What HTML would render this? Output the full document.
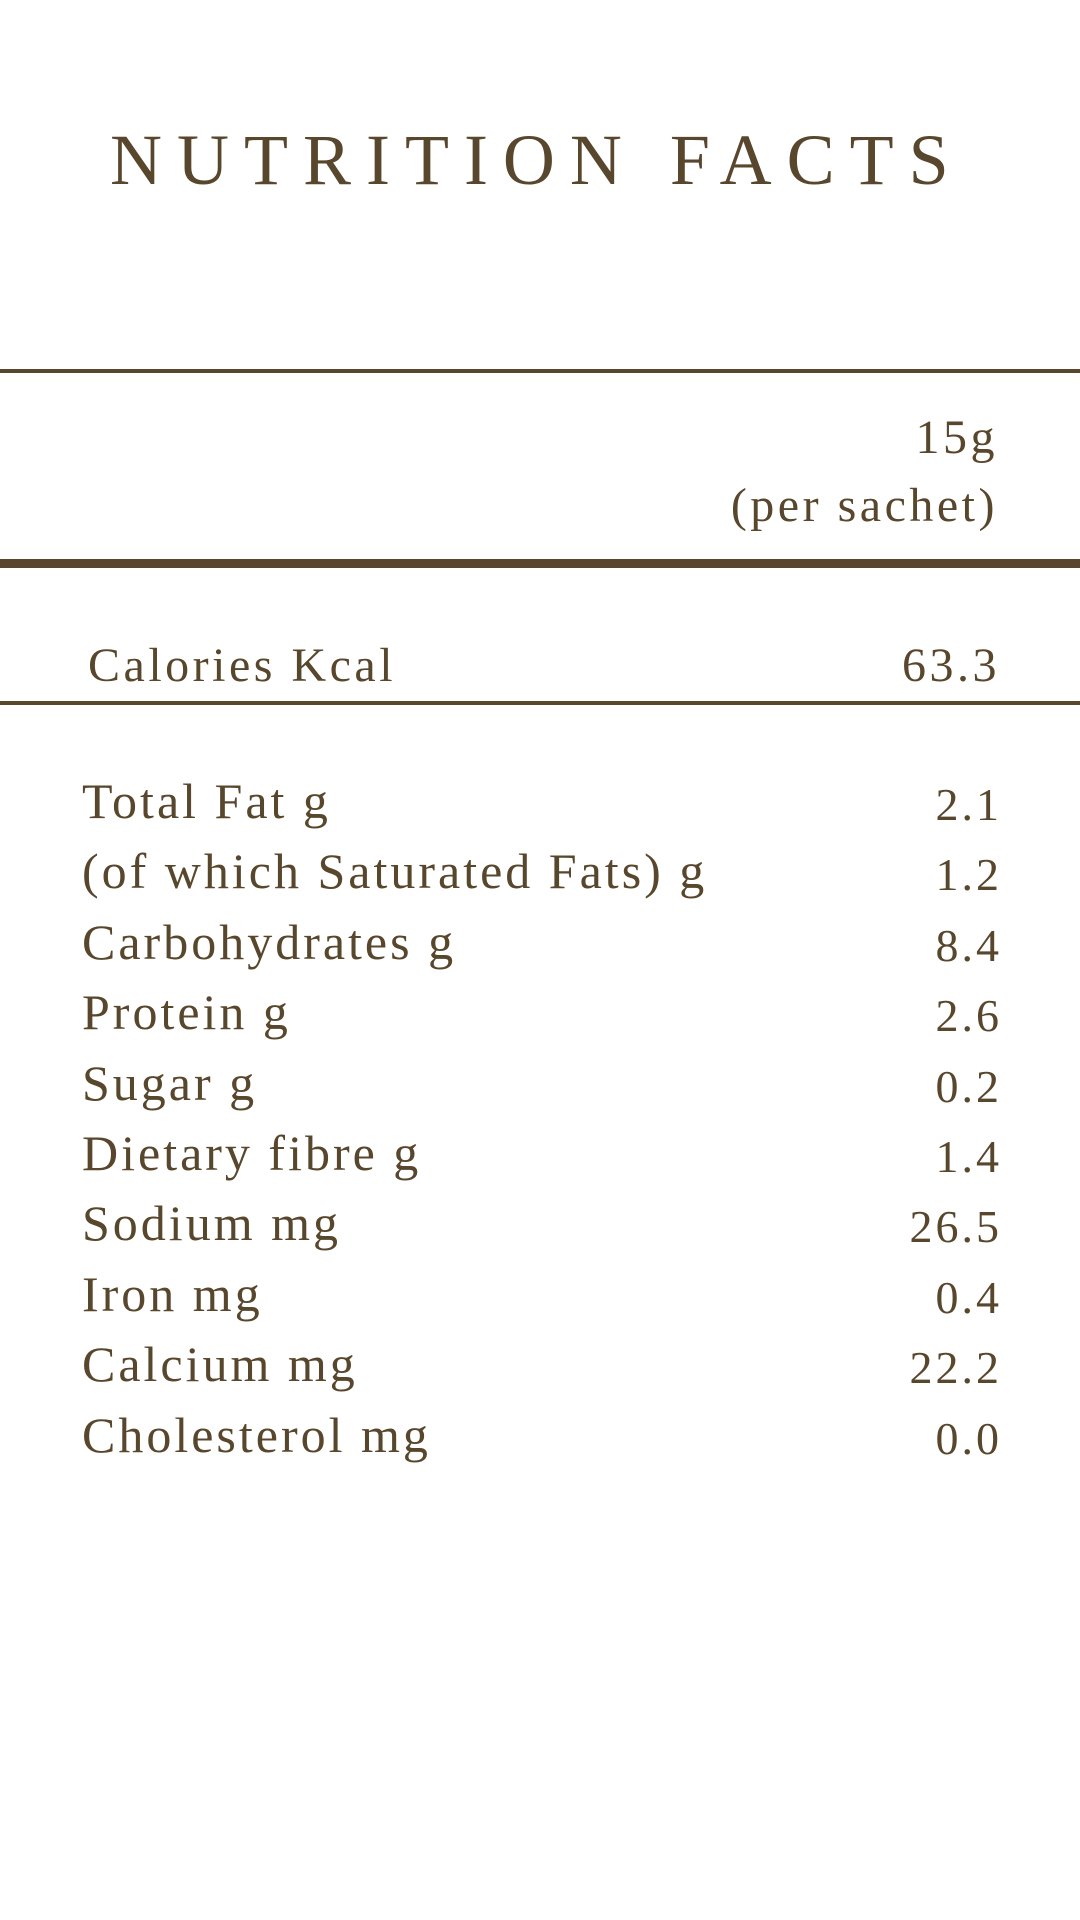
<!DOCTYPE html>
<html><head><meta charset="utf-8"><style>
body{margin:0;width:1080px;height:1920px;background:#fff;font-family:"Liberation Serif",serif;color:#58472c;position:relative;overflow:hidden}
.t{position:absolute;white-space:nowrap;line-height:1;letter-spacing:3.5px}
.r{text-align:right}
.line{position:absolute;left:0;width:1080px;background:#58472c}
</style></head><body>
<div class="t" style="left:110px;top:124px;font-size:72px;letter-spacing:15px">NUTRITION FACTS</div>
<div class="line" style="top:369px;height:4px"></div>
<div class="t r" style="right:82px;top:414px;font-size:48px">15g</div>
<div class="t r" style="right:82px;top:482px;font-size:48px">(per sachet)</div>
<div class="line" style="top:559px;height:9px"></div>
<div class="t" style="left:88px;top:642px;font-size:48px">Calories Kcal</div>
<div class="t r" style="right:80px;top:642px;font-size:48px">63.3</div>
<div class="line" style="top:701px;height:4px"></div>
<div id="rows"></div>
<script>
const labels=["Total Fat g","(of which Saturated Fats) g","Carbohydrates g","Protein g","Sugar g","Dietary fibre g","Sodium mg","Iron mg","Calcium mg","Cholesterol mg"];
const values=["2.1","1.2","8.4","2.6","0.2","1.4","26.5","0.4","22.2","0.0"];
const rows=document.getElementById('rows');
labels.forEach((l,i)=>{
 const top=776+i*70.4;
 const a=document.createElement('div');a.className='t';a.style.cssText=`left:82px;top:${top}px;font-size:50px;letter-spacing:3px`;a.textContent=l;
 
 
 const b=document.createElement('div');b.className='t r';b.style.cssText=`right:78px;top:${top+6}px;font-size:46px;letter-spacing:3px`;b.textContent=values[i];
 
 
 rows.appendChild(a);rows.appendChild(b);
});
</script>
</body></html>
